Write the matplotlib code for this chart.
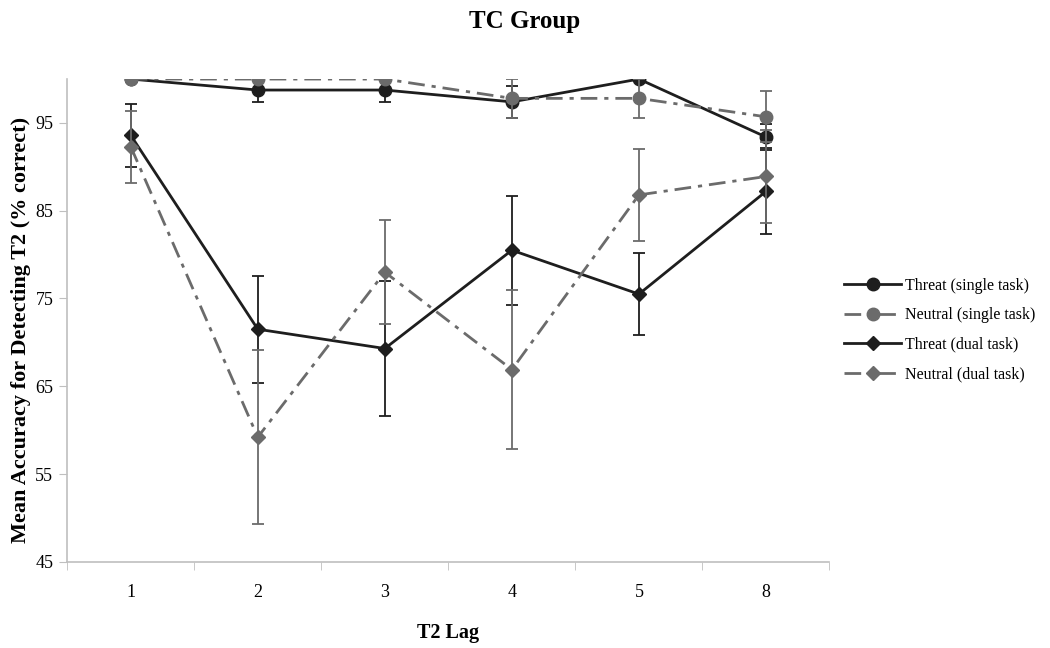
import numpy as np
import matplotlib
matplotlib.use('Agg')
import matplotlib.pyplot as plt

lags = ['1', '2', '3', '4', '5', '8']

threat_single = [100.0, 98.75, 98.75, 97.4, 100.0, 93.4]
threat_single_err = [0.0, 1.4, 1.4, 1.8, 0.0, 1.5]
neutral_single = [100.0, 100.0, 100.0, 97.8, 97.8, 95.7]
neutral_single_err = [0.0, 0.0, 0.0, 2.2, 2.2, 2.9]
threat_dual = [93.6, 71.5, 69.3, 80.5, 75.5, 87.2]
threat_dual_err = [3.6, 6.1, 7.7, 6.2, 4.7, 4.9]
neutral_dual = [92.3, 59.2, 78.0, 66.9, 86.8, 88.9]
neutral_dual_err = [4.1, 9.9, 5.9, 9.1, 5.2, 5.3]

series_labels = ['Threat (single task)', 'Neutral (single task)',
                 'Threat (dual task)', 'Neutral (dual task)']

plt.rcParams['font.family'] = ['Liberation Serif', 'DejaVu Serif']

black = '#1e1e1e'
gray = '#6b6b6b'
dashdot = (0, (6, 2.5, 1.5, 2.5))

fig = plt.figure(figsize=(10.5, 6.48), dpi=100)
ax = fig.add_axes([0.064, 0.133, 0.726, 0.745])

x = np.arange(len(lags))
series = [
    (threat_single, threat_single_err, black, '-', 'o', 9),
    (neutral_single, neutral_single_err, gray, dashdot, 'o', 9),
    (threat_dual, threat_dual_err, black, '-', 'D', 7),
    (neutral_dual, neutral_dual_err, gray, dashdot, 'D', 7),
]
handles = []
for i, (vals, err, col, ls, mk, ms) in enumerate(series):
    ax.errorbar(x, vals, yerr=err, fmt='none', ecolor=col, elinewidth=1.3,
                capsize=4, capthick=1.3, zorder=2 + i)
    line, = ax.plot(x, vals, color=col, linestyle=ls, linewidth=2,
                    marker=mk, markersize=ms, markerfacecolor=col,
                    markeredgecolor=col, zorder=3 + i, label=series_labels[i])
    handles.append(line)

ax.set_xlim(-0.5, len(lags) - 0.5)
ax.set_ylim(45, 100)
ax.set_yticks([45, 55, 65, 75, 85, 95])
ax.set_xticks(x)
ax.set_xticklabels(lags)
ax.set_xticks(np.arange(-0.5, len(lags), 1.0), minor=True)
ax.tick_params(axis='x', which='major', length=0, pad=16, labelsize=13)
ax.tick_params(axis='x', which='minor', length=6, color='#bfbfbf', direction='out')
ax.tick_params(axis='y', length=6, color='#bfbfbf', labelsize=13, pad=4)

for side in ['top', 'right']:
    ax.spines[side].set_visible(False)
for side in ['left', 'bottom']:
    ax.spines[side].set_color('#bfbfbf')
    ax.spines[side].set_linewidth(1.2)

ax.set_xlabel('T2 Lag', fontsize=14.5, fontweight='bold', labelpad=16)
ax.set_ylabel('Mean Accuracy for Detecting T2 (% correct)', fontsize=16,
              fontweight='bold')
ax.yaxis.set_label_coords(-0.047, 0.48)
fig.suptitle('TC Group', fontsize=18, fontweight='bold', y=0.985)

ax.legend(handles=handles, loc='center left', bbox_to_anchor=(1.0, 0.48),
          frameon=False, fontsize=11.5, handlelength=3.6, labelspacing=0.85,
          handletextpad=0.2)

fig.savefig('out.png', dpi=100)
